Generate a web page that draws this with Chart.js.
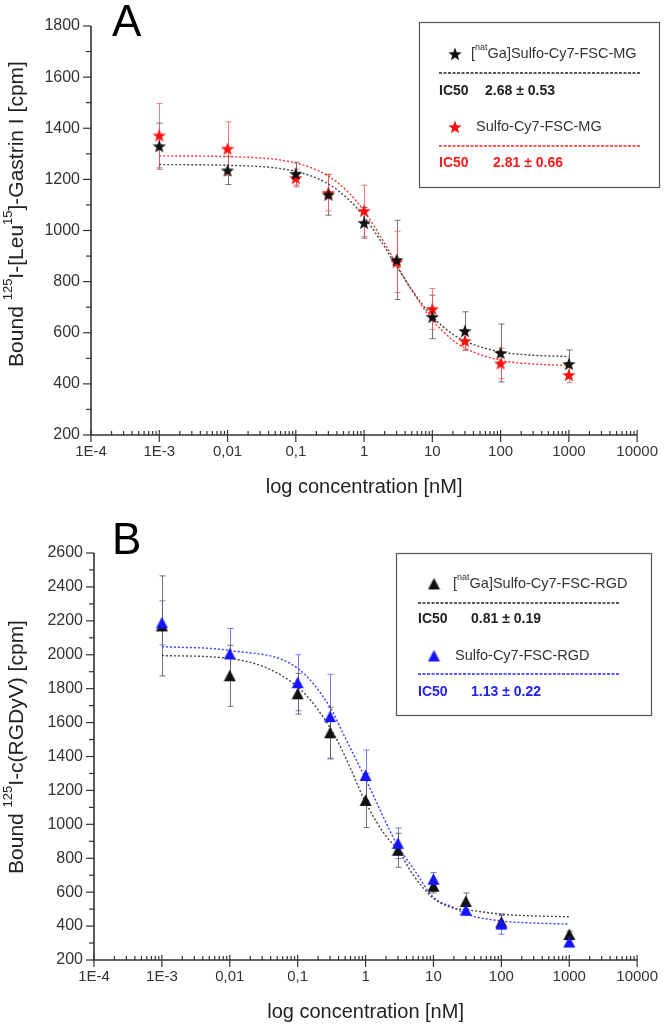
<!DOCTYPE html>
<html>
<head>
<meta charset="utf-8">
<script src="https://cdn.jsdelivr.net/npm/chart.js@4.4.1/dist/chart.umd.min.js"></script>
<style>
  html, body { margin: 0; padding: 0; background: #fff; }
  .panel { position: absolute; left: 0; width: 666px; height: 512px; }
</style>
</head>
<body>
<div class="panel" style="top:0"><canvas id="chartA" width="666" height="512"></canvas></div>
<div class="panel" style="top:512px"><canvas id="chartB" width="666" height="512"></canvas></div>
<script>
"use strict";

// x tick labels (one per decade, 1E-4 ... 10000)
const xTickLabels = ['1E-4', '1E-3', '0,01', '0,1', '1', '10', '100', '1000', '10000'];

// concentrations used in both panels [nM]
const conc = [0.001, 0.01, 0.1, 0.3, 1, 3, 10, 30, 100, 1000];

// Panel A : measured points +/- error
const gaMG    = [1330, 1235, 1222, 1140, 1030, 885, 662, 607, 521, 478];
const gaMGErr = [90, 55, 45, 80, 60, 155, 85, 75, 113, 55];
const mg      = [1372, 1320, 1205, 1147, 1077, 877, 693, 568, 480, 435];
const mgErr   = [125, 105, 35, 70, 100, 120, 80, 35, 60, 30];

// Panel A : fitted curves
const fitConc  = [0.001, 0.01, 0.1, 0.3, 0.6, 1, 2, 3, 5, 10, 20, 30, 100, 300, 1000];
const fitGaMG  = [1258, 1255, 1231, 1182, 1120, 1053, 936, 860, 768, 664, 594, 567, 525, 512, 507];
const fitMG    = [1292, 1289, 1264, 1213, 1147, 1076, 950, 867, 766, 650, 571, 540, 492, 478, 472];

// Panel B : measured points +/- error
const gaRGD    = [2170, 1876, 1770, 1540, 1141, 847, 635, 545, 423, 350];
const gaRGDErr = [295, 180, 120, 150, 160, 100, 40, 50, 40, 20];
const rgd      = [2188, 2005, 1835, 1635, 1288, 888, 676, 494, 412, 306];
const rgdErr   = [130, 150, 165, 250, 150, 90, 40, 30, 60, 25];

// Panel B : fitted curves
const fitConcB = [0.001, 0.01, 0.1, 0.3, 0.5, 1, 2, 3, 5, 10, 20, 30, 100, 300, 1000];
const fitGaRGD = [1995, 1978, 1810, 1570, 1400, 1130, 930, 850, 703, 564, 505, 497, 470, 460, 455];
const fitRGD   = [2048, 2025, 1920, 1690, 1511, 1268, 1010, 870, 742, 570, 509, 472, 430, 418, 412];

const FONT = '"Liberation Sans", Arial, sans-serif';
Chart.defaults.font.family = FONT;

function pts(xs, ys) {
  return xs.map((x, i) => ({ x: x, y: ys[i] }));
}

// filled marker images
function starImg(color, size) {
  const c = document.createElement('canvas');
  c.width = c.height = size;
  const g = c.getContext('2d');
  g.beginPath();
  for (let i = 0; i < 10; i++) {
    const r = i % 2 ? size * 0.21 : size * 0.5;
    const a = -Math.PI / 2 + i * Math.PI / 5;
    const px = size / 2 + r * Math.cos(a), py = size / 2 + 0.6 + r * Math.sin(a);
    if (i === 0) g.moveTo(px, py); else g.lineTo(px, py);
  }
  g.closePath();
  g.fillStyle = color;
  g.fill();
  return c;
}

function triImg(color, size) {
  const c = document.createElement('canvas');
  c.width = c.height = size;
  const g = c.getContext('2d');
  g.beginPath();
  g.moveTo(size / 2, 0.5);
  g.lineTo(size - 0.5, size - 1);
  g.lineTo(0.5, size - 1);
  g.closePath();
  g.fillStyle = color;
  g.fill();
  return c;
}

// text with superscripts: parts = [[text, isSup], ...]
function drawRich(ctx, parts, x, y, size, color, opt) {
  opt = opt || {};
  const w = opt.bold ? 'bold ' : '';
  const fN = w + size + 'px ' + FONT;
  const fS = w + Math.round(size * 0.62) + 'px ' + FONT;
  ctx.save();
  ctx.translate(x, y);
  if (opt.rotate) ctx.rotate(-Math.PI / 2);
  ctx.fillStyle = color;
  ctx.textBaseline = 'middle';
  ctx.textAlign = 'left';
  let total = 0;
  parts.forEach(p => { ctx.font = p[1] ? fS : fN; total += ctx.measureText(p[0]).width; });
  let cx = opt.center ? -total / 2 : 0;
  parts.forEach(p => {
    ctx.font = p[1] ? fS : fN;
    ctx.fillText(p[0], cx, p[1] ? -size * 0.42 : 0);
    cx += ctx.measureText(p[0]).width;
  });
  ctx.restore();
}

function dashed(ctx, x1, x2, y, color) {
  ctx.save();
  ctx.strokeStyle = color;
  ctx.lineWidth = 1.4;
  ctx.setLineDash([3, 1.5]);
  ctx.beginPath();
  ctx.moveTo(x1, y);
  ctx.lineTo(x2, y);
  ctx.stroke();
  ctx.restore();
}

// error bars, drawn under the markers
const errorBars = {
  id: 'errorBars',
  beforeDatasetsDraw(chart) {
    const ctx = chart.ctx;
    const xs = chart.scales.x, ys = chart.scales.y;
    chart.data.datasets.forEach(ds => {
      if (!ds.errors) return;
      ctx.save();
      ctx.strokeStyle = ds.errorColor;
      ctx.lineWidth = 1;
      ds.data.forEach((p, i) => {
        const px = Math.round(xs.getPixelForValue(p.x)) + 0.5;
        const top = ys.getPixelForValue(p.y + ds.errors[i]);
        const bot = ys.getPixelForValue(p.y - ds.errors[i]);
        ctx.beginPath();
        ctx.moveTo(px, top); ctx.lineTo(px, bot);
        ctx.moveTo(px - 3, top); ctx.lineTo(px + 3, top);
        ctx.moveTo(px - 3, bot); ctx.lineTo(px + 3, bot);
        ctx.stroke();
      });
      ctx.restore();
    });
  }
};

// axes lines, tick marks, titles, panel letter and the legend box
const deco = {
  id: 'deco',
  afterDraw(chart, args, o) {
    const ctx = chart.ctx;
    const a = chart.chartArea;
    const xs = chart.scales.x, ys = chart.scales.y;
    ctx.save();
    ctx.strokeStyle = '#333';
    ctx.lineWidth = 1.6;
    ctx.beginPath();
    ctx.moveTo(a.left, a.top);
    ctx.lineTo(a.left, a.bottom);
    ctx.lineTo(a.right, a.bottom);
    ctx.stroke();
    ctx.lineWidth = 1.2;
    ys.ticks.forEach(t => {
      const py = ys.getPixelForValue(t.value);
      const len = t.value % 200 === 0 ? 8 : 5;
      ctx.beginPath();
      ctx.moveTo(a.left - len, py);
      ctx.lineTo(a.left, py);
      ctx.stroke();
    });
    xs.ticks.forEach(t => {
      const px = xs.getPixelForValue(t.value);
      const major = Math.abs(Math.log10(t.value) - Math.round(Math.log10(t.value))) < 1e-6;
      ctx.beginPath();
      if (major) { ctx.moveTo(px, a.bottom - 5); ctx.lineTo(px, a.bottom + 7); }
      else { ctx.moveTo(px, a.bottom - 4); ctx.lineTo(px, a.bottom); }
      ctx.stroke();
    });
    ctx.restore();

    // panel letter
    ctx.save();
    ctx.fillStyle = '#000';
    ctx.font = '44px ' + FONT;
    ctx.textBaseline = 'alphabetic';
    ctx.fillText(o.letter, o.letterX, o.letterY);
    ctx.restore();

    // axis titles
    drawRich(ctx, [['log concentration [nM]', 0]], (a.left + a.right) / 2, o.xTitleY, 20, '#222', { center: true });
    drawRich(ctx, o.yTitle, 17, o.yTitleY, 21, '#222', { center: true, rotate: true });

    // legend box
    const b = o.box;
    ctx.save();
    ctx.strokeStyle = '#555';
    ctx.lineWidth = 1.2;
    ctx.strokeRect(b.x + 0.5, b.y + 0.5, b.w, b.h);
    ctx.restore();
    o.entries.forEach(e => {
      ctx.drawImage(e.img, e.mx - e.img.width / 2, e.my - e.img.height / 2);
      drawRich(ctx, e.name, e.tx, e.my, 14.5, '#333');
      dashed(ctx, e.dx1, e.dx2, e.dy, e.color);
      drawRich(ctx, [['IC50', 0]], e.dx1, e.iy, 14, e.icColor, { bold: true });
      drawRich(ctx, [[e.ic, 0]], e.vx, e.iy, 14, e.icColor, { bold: true });
    });
  }
};

function xTicks(scale) {
  const t = [];
  for (let e = -4; e <= 4; e++) {
    for (let s = 1; s <= 9; s++) {
      if (e === 4 && s > 1) break;
      t.push({ value: Number((s * Math.pow(10, e)).toPrecision(3)) });
    }
  }
  scale.ticks = t;
}

function xLabel(v) {
  const e = Math.log10(v);
  if (Math.abs(e - Math.round(e)) > 1e-6) return '';
  return xTickLabels[Math.round(e) + 4];
}

function makeChart(id, cfg) {
  return new Chart(document.getElementById(id), {
    type: 'scatter',
    data: { datasets: cfg.datasets },
    plugins: [errorBars, deco],
    options: {
      responsive: false,
      animation: false,
      layout: { padding: { left: 0, right: cfg.padRight, top: cfg.padTop, bottom: 0 } },
      scales: {
        x: {
          type: 'logarithmic',
          min: 1e-4, max: 1e4,
          grid: { display: false, drawTicks: false },
          border: { display: false },
          afterBuildTicks: xTicks,
          afterFit: s => { s.height = cfg.xHeight; },
          ticks: {
            autoSkip: false, maxRotation: 0, padding: 8,
            color: '#333', font: { size: 15 },
            callback: v => xLabel(v)
          }
        },
        y: {
          min: cfg.yMin, max: cfg.yMax,
          grid: { display: false, drawTicks: false },
          border: { display: false },
          afterFit: s => { s.width = cfg.yWidth; },
          ticks: {
            stepSize: 100, autoSkip: false, padding: 11,
            color: '#333', font: { size: 16 },
            callback: v => (v % 200 === 0 ? v : '')
          }
        }
      },
      plugins: {
        legend: { display: false },
        tooltip: { enabled: false },
        deco: cfg.deco
      }
    }
  });
}

function pointSet(xs, ys, errs, img, errColor) {
  return {
    data: pts(xs, ys), errors: errs, errorColor: errColor,
    pointStyle: img, pointRadius: 6, showLine: false
  };
}

function curveSet(xs, ys, color) {
  return {
    data: pts(xs, ys), showLine: true, pointRadius: 0,
    borderColor: color, borderWidth: 1.4, borderDash: [2, 2],
    cubicInterpolationMode: 'monotone', fill: false
  };
}

const starK = starImg('#111', 14), starR = starImg('#ff1010', 14);
const triK = triImg('#111', 13), triB = triImg('#1414ff', 13);

makeChart('chartA', {
  padTop: 26, padRight: 25, xHeight: 77, yWidth: 91, yMin: 200, yMax: 1800,
  datasets: [
    pointSet(conc, gaMG, gaMGErr, starK, 'rgba(90,90,90,0.85)'),
    pointSet(conc, mg, mgErr, starR, 'rgba(255,90,90,0.8)'),
    curveSet(fitConc, fitGaMG, '#444'),
    curveSet(fitConc, fitMG, '#ff3030')
  ],
  deco: {
    letter: 'A', letterX: 112, letterY: 36,
    xTitleY: 487, yTitleY: 214,
    yTitle: [['Bound ', 0], ['125', 1], ['I-[Leu', 0], ['15', 1], [']-Gastrin I [cpm]', 0]],
    box: { x: 419, y: 22, w: 240, h: 165 },
    entries: [
      { img: starK, mx: 455, my: 54, tx: 471, name: [['[', 0], ['nat', 1], ['Ga]Sulfo-Cy7-FSC-MG', 0]],
        dx1: 439, dx2: 640, dy: 73, color: '#222', iy: 91, vx: 485, ic: '2.68 ± 0.53', icColor: '#222' },
      { img: starR, mx: 455, my: 127, tx: 476, name: [['Sulfo-Cy7-FSC-MG', 0]],
        dx1: 439, dx2: 640, dy: 146, color: '#ff2020', iy: 163, vx: 493, ic: '2.81 ± 0.66', icColor: '#ff1a1a' }
    ]
  }
});

makeChart('chartB', {
  padTop: 41, padRight: 24, xHeight: 64, yWidth: 94, yMin: 200, yMax: 2600,
  datasets: [
    pointSet(conc, rgd, rgdErr, triB, 'rgba(100,100,255,0.85)'),
    pointSet(conc, gaRGD, gaRGDErr, triK, 'rgba(90,90,90,0.85)'),
    curveSet(fitConcB, fitGaRGD, '#444'),
    curveSet(fitConcB, fitRGD, '#3a3aff')
  ],
  deco: {
    letter: 'B', letterX: 112, letterY: 42,
    xTitleY: 500, yTitleY: 235,
    yTitle: [['Bound ', 0], ['125', 1], ['I-c(RGDyV) [cpm]', 0]],
    box: { x: 396, y: 41, w: 255, h: 162 },
    entries: [
      { img: triK, mx: 434, my: 72, tx: 453, name: [['[', 0], ['nat', 1], ['Ga]Sulfo-Cy7-FSC-RGD', 0]],
        dx1: 418, dx2: 619, dy: 91, color: '#222', iy: 107, vx: 471, ic: '0.81 ± 0.19', icColor: '#222' },
      { img: triB, mx: 434, my: 144, tx: 455, name: [['Sulfo-Cy7-FSC-RGD', 0]],
        dx1: 418, dx2: 619, dy: 162, color: '#2a2aff', iy: 180, vx: 471, ic: '1.13 ± 0.22', icColor: '#2222ee' }
    ]
  }
});
</script>
</body>
</html>
